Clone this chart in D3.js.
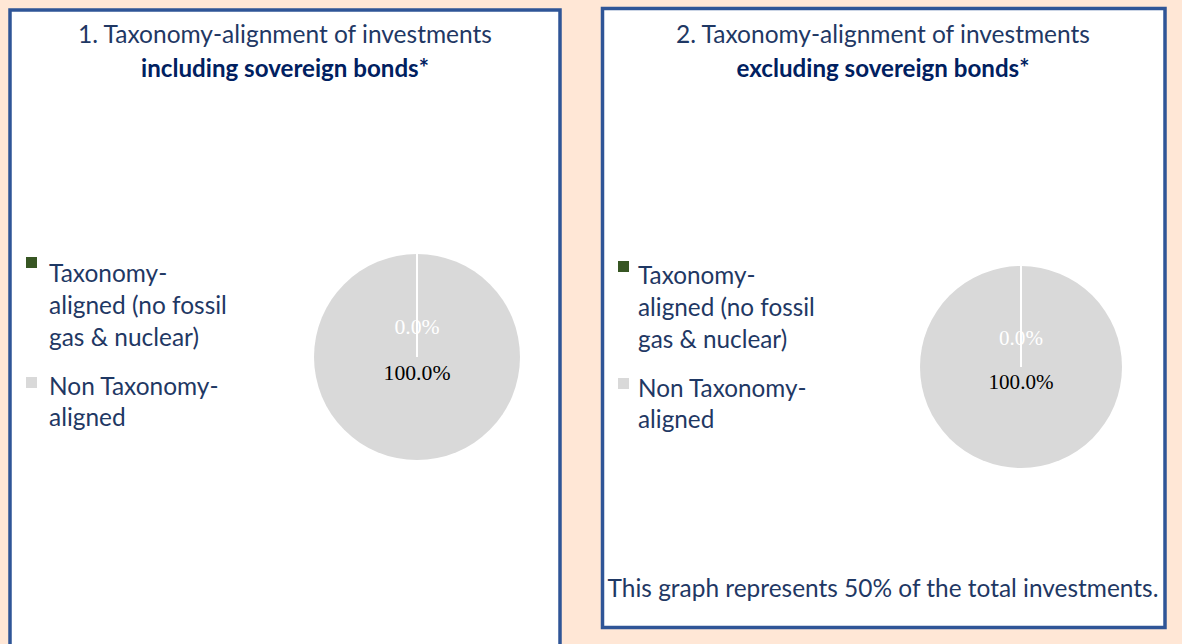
<!DOCTYPE html>
<html>
<head>
<meta charset="utf-8">
<script src="https://cdn.jsdelivr.net/npm/d3@7"></script>
<style>
  html, body { margin: 0; padding: 0; background: #FFE7D6; }
  svg { display: block; }
</style>
</head>
<body>
<svg id="chart" width="1182" height="644"></svg>
<script>
// ---- data ----
const categories = ["Taxonomy-aligned (no fossil gas & nuclear)", "Non Taxonomy-aligned"];
const includingValues = [0.0, 100.0];
const excludingValues = [0.0, 100.0];
const legendLines = [["Taxonomy-", "aligned (no fossil", "gas & nuclear)"], ["Non Taxonomy-", "aligned"]];
const titles1 = ["1. Taxonomy-alignment of investments", "including sovereign bonds*"];
const titles2 = ["2. Taxonomy-alignment of investments", "excluding sovereign bonds*"];
const footnote = "This graph represents 50% of the total investments.";
const colors = ["#375623", "#D9D9D9"];
const labelColors = ["#FFFFFF", "#000000"];

const svg = d3.select("#chart");
const W = 1182, H = 644;
const sansFont = "Lato, 'Open Sans', sans-serif";
const serifFont = "'Liberation Serif', 'DejaVu Serif', serif";

svg.append("rect").attr("width", W).attr("height", H).attr("fill", "#FFE7D6");

function fit(sel, target) {
  const node = sel.node();
  const base = parseFloat(sel.attr("font-size"));
  const len = node.getComputedTextLength();
  if (len > 0) sel.attr("font-size", base * target / len);
  return parseFloat(sel.attr("font-size"));
}

const color = d3.scaleOrdinal().domain(categories).range(colors);

function panel(cfg) {
  const g = svg.append("g");
  g.append("rect")
    .attr("x", cfg.box[0]).attr("y", cfg.box[1])
    .attr("width", cfg.box[2]).attr("height", cfg.box[3])
    .attr("fill", "#FFFFFF").attr("stroke", "#2F5597").attr("stroke-width", 3.5);

  // titles
  const t1 = g.append("text").attr("x", cfg.tcx).attr("y", 43)
    .attr("text-anchor", "middle").attr("font-family", sansFont)
    .attr("font-size", 20).attr("fill", "#1F3864").text(cfg.titles[0]);
  fit(t1, cfg.tw[0]);
  const t2 = g.append("text").attr("x", cfg.tcx).attr("y", 77)
    .attr("text-anchor", "middle").attr("font-family", sansFont)
    .attr("font-weight", 700)
    .attr("font-size", 20).attr("fill", "#002060").text(cfg.titles[1]);
  fit(t2, cfg.tw[1]);

  // legend
  const lineYs = [[282, 314, 346], [395, 426]];
  const texts = [];
  let lfs = 20;
  categories.forEach((c, i) => {
    g.append("rect").attr("x", cfg.lx).attr("y", cfg.sqY[i])
      .attr("width", 11).attr("height", 11).attr("fill", color(c));
    legendLines[i].forEach((ln, j) => {
      const t = g.append("text").attr("x", cfg.tx).attr("y", lineYs[i][j] + cfg.ldy)
        .attr("font-family", sansFont).attr("font-size", 20)
        .attr("fill", "#1F3864").text(ln);
      if (i === 0 && j === 1) lfs = fit(t, cfg.lw);
      texts.push(t);
    });
  });
  texts.forEach(t => t.attr("font-size", lfs));

  // pie
  const pie = d3.pie().sort(null).value(d => d)(cfg.values);
  const arc = d3.arc().innerRadius(0).outerRadius(cfg.r);
  const labelArc = d3.arc().innerRadius(cfg.r * 0.22).outerRadius(cfg.r * 0.22);
  const pg = g.append("g").attr("transform", `translate(${cfg.cx},${cfg.cy})`);
  pg.selectAll("path").data(pie).join("path")
    .attr("d", arc)
    .attr("fill", (d, i) => color(categories[i]));
  // slice separators (white borders)
  pg.selectAll("line.sep").data(pie).join("line")
    .attr("class", "sep")
    .attr("x1", 0).attr("y1", 0)
    .attr("x2", d => cfg.r * Math.sin(d.startAngle))
    .attr("y2", d => -cfg.r * Math.cos(d.startAngle))
    .attr("stroke", "#FFFFFF").attr("stroke-width", 2);
  const labs = pg.selectAll("text").data(pie).join("text")
    .attr("transform", d => `translate(${labelArc.centroid(d)})`)
    .attr("text-anchor", "middle")
    .attr("font-family", serifFont).attr("font-size", 20)
    .attr("fill", (d, i) => labelColors[i])
    .text(d => d3.format(".1f")(d.data) + "%");
  const fs = fit(labs.filter((d, i) => i === 1), cfg.labW);
  labs.attr("font-size", fs);

  if (cfg.foot) {
    const f = g.append("text").attr("x", cfg.foot[0]).attr("y", cfg.foot[1])
      .attr("text-anchor", "middle").attr("font-family", sansFont)
      .attr("font-size", 20).attr("fill", "#1F3864").text(footnote);
    fit(f, cfg.foot[2]);
  }
  return g;
}

panel({
  box: [10, 10, 550, 660], tcx: 285, tw: [414, 288], titles: titles1,
  lx: 26, tx: 49, ldy: 0, sqY: [257, 377], lw: 178, values: includingValues,
  cx: 417, cy: 357, r: 103, labW: 67
});
panel({
  box: [602.5, 8.5, 562.5, 619], tcx: 883, tw: [414, 293], titles: titles2,
  lx: 618, tx: 638, ldy: 2, sqY: [261, 378], lw: 177, values: excludingValues,
  cx: 1021, cy: 367, r: 101, labW: 65,
  foot: [883, 597, 551]
});
</script>
</body>
</html>
